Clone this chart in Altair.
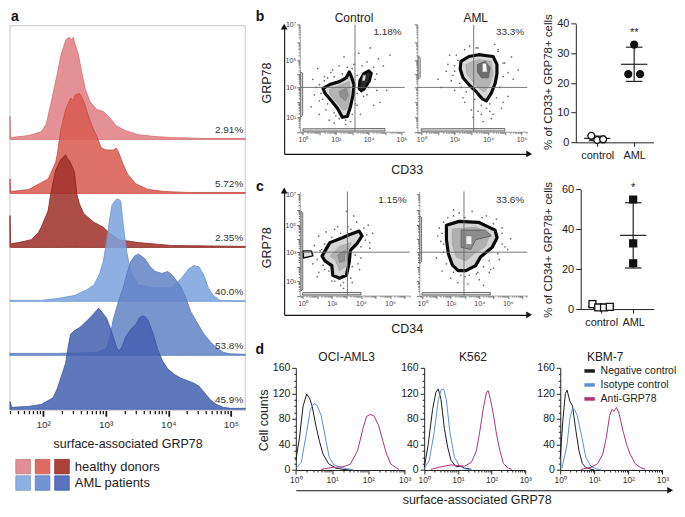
import altair as alt
import numpy as np
import pandas as pd

FONT = "Liberation Sans"
W, H = 669, 501
KX, KY = 667 / 685.0, 499 / 517.0


def px(v):
    return round(v * KX, 2)


def py(v):
    return round(v * KY, 2)


SUP = {0: "\u2070", 1: "\u00b9", 2: "\u00b2", 3: "\u00b3", 4: "\u2074",
       5: "\u2075", 6: "\u2076", 7: "\u2077"}
INT_TEST = "abs(datum.value - round(datum.value)) < 0.001"


def pow_expr(allowed):
    s = "''"
    for n in sorted(allowed, reverse=True):
        s = f"(abs(datum.value - {n}) < 0.001 ? '10{SUP[n]}' : {s})"
    return s


def log_ticks(lo, hi):
    vals = []
    for d in range(int(np.floor(lo)) - 1, int(np.ceil(hi)) + 1):
        for k in range(1, 10):
            v = d + np.log10(k)
            if lo - 1e-9 <= v <= hi + 1e-9:
                vals.append(round(float(v), 4))
    return vals


def cond(test, a, b):
    return {"condition": {"test": test, "value": a}, "value": b}


ONE = pd.DataFrame({"k": [0]})
UNITS = []

# ---------------------------------------------------------------- data: panel a
row1_x = [1.47, 1.48, 1.77, 1.97, 2.05, 2.12, 2.23, 2.28, 2.34, 2.37, 2.42, 2.45, 2.48, 2.51,
          2.56, 2.62, 2.67, 2.75, 2.86, 2.96, 3.06, 3.17, 3.32, 3.52, 3.79, 4.05, 4.6, 5.23]
row1_h = [24, 2, 4, 8, 16, 36, 69, 86, 99, 104, 106, 103, 106, 99,
          89, 69, 53, 39, 31, 29, 23, 14, 9, 5, 3, 2, 1, 1]
row2_x = [1.47, 1.48, 1.77, 2.08, 2.20, 2.23, 2.28, 2.36, 2.44, 2.48, 2.51, 2.58, 2.62, 2.67,
          2.70, 2.78, 2.86, 2.93, 3.01, 3.12, 3.17, 3.21, 3.28, 3.35, 3.48, 3.68, 3.94, 4.30, 5.23]
row2_h = [15, 2, 4, 15, 32, 42, 65, 87, 99, 96, 102, 104, 100, 92,
          85, 70, 59, 47, 45, 45, 47, 42, 30, 20, 10, 4, 2, 1, 1]
row3_x = [1.47, 1.48, 1.50, 1.61, 1.81, 1.92, 1.97, 2.08, 2.12, 2.20, 2.28, 2.31, 2.36, 2.39,
          2.42, 2.47, 2.50, 2.54, 2.58, 2.65, 2.81, 2.96, 3.06, 3.21, 3.52, 4.05, 5.23]
row3_h = [33, 3, 4, 5, 8, 15, 21, 38, 55, 80, 91, 93, 96, 92,
          90, 83, 78, 55, 45, 35, 26, 21, 15, 8, 5, 2, 1]
row4_x = [1.47, 1.97, 2.23, 2.50, 2.70, 2.81, 2.90, 2.96, 3.01, 3.06, 3.10, 3.17, 3.21, 3.24,
          3.29, 3.34, 3.40, 3.52, 3.79, 4.05, 4.21, 4.33, 4.41, 4.49, 4.57, 4.64, 4.72, 4.83, 5.23]
row4_h = [1, 1, 3, 6, 12, 17, 28, 41, 60, 84, 100, 106, 106, 104,
          74, 50, 31, 17, 14, 14, 24, 34, 37, 36, 27, 14, 6, 1, 0.5]
row5_x = [1.47, 2.23, 2.86, 3.01, 3.07, 3.12, 3.20, 3.28, 3.34, 3.40, 3.46, 3.52, 3.57, 3.63,
          3.71, 3.79, 3.90, 3.99, 4.05, 4.10, 4.21, 4.29, 4.36, 4.46, 4.57, 4.67, 4.77, 4.88,
          4.99, 5.23]
row5_h = [2, 2, 3, 7, 20, 37, 55, 70, 85, 97, 103, 105, 103, 100,
          92, 87, 85, 87, 84, 80, 70, 58, 45, 34, 22, 14, 8, 3, 1.5, 1]
row6_x = [1.47, 1.50, 1.77, 1.97, 2.16, 2.23, 2.31, 2.36, 2.40, 2.44, 2.51, 2.59, 2.67, 2.75,
          2.82, 2.89, 2.95, 3.01, 3.07, 3.12, 3.17, 3.21, 3.26, 3.32, 3.40, 3.48, 3.54, 3.59,
          3.63, 3.68, 3.76, 3.83, 3.91, 3.99, 4.10, 4.21, 4.30, 4.41, 4.49, 4.57, 4.67, 4.77,
          4.88, 4.99, 5.23]
row6_h = [8, 2, 3, 5, 12, 22, 38, 48, 65, 78, 82, 85, 90, 95,
          100, 105, 100, 95, 85, 75, 65, 60, 65, 75, 83, 88, 95, 97,
          96, 92, 78, 62, 50, 42, 36, 32, 30, 27, 24, 18, 10, 5,
          2, 1, 1]
ridge_pct = ["2.91%", "5.72%", "2.35%", "40.0%", "53.8%", "45.9%"]
ridge_fill = ["#df7f84", "#d95b50", "#a0302a", "#7ba2dc", "#6383c6", "#4561b0"]
ridge_edge = ["#d66f75", "#c94a40", "#8a2420", "#6d95d3", "#5676bb", "#3a55a3"]
legend_groups = ["healthy donors", "AML patients"]
legend_fill = [["#e08e92", "#dd6d63", "#aa4038"], ["#8db0e3", "#7394d2", "#5773c0"]]
legend_edge = [["#c9777b", "#c4564d", "#8c2c25"], ["#7595cc", "#5a7bbd", "#4560a8"]]

# ---------------------------------------------------------------- data: panels b, c (flow)
bc_outer_x = [1.22, 1.63, 2.22, 2.64, 2.82, 2.93, 3.11, 3.05, 2.88, 2.70, 2.40, 2.11, 1.69, 1.34]
bc_outer_y = [2.94, 3.21, 3.43, 3.71, 4.14, 3.86, 3.21, 2.48, 1.65, 1.06, 1.00, 1.58, 2.16, 2.61]
bc_mid_x = [1.63, 2.52, 2.82, 2.88, 2.70, 2.46, 2.05, 1.63]
bc_mid_y = [2.87, 3.29, 3.43, 2.48, 1.58, 1.45, 2.03, 2.55]
bc_core_x = [2.22, 2.64, 2.76, 2.58, 2.28]
bc_core_y = [2.74, 2.94, 2.48, 2.10, 2.35]
bc_pop2_x = [3.41, 3.45, 3.70, 4.00, 4.18, 4.05, 3.75, 3.55]
bc_pop2_y = [2.90, 3.50, 4.05, 4.25, 4.05, 3.45, 2.90, 2.75]
bc_hole_x = [3.60, 3.68, 3.82, 3.76]
bc_hole_y = [3.50, 3.90, 3.90, 3.50]
bc_dots_x = [0.9, 1.0, 1.4, 0.8, 1.6, 1.9, 2.5, 3.4, 4.1, 4.6, 4.9, 4.5, 3.7, 3.3, 3.5, 2.9,
             2.2, 1.8, 5.1, 4.7, 0.5, 0.6, 1.3, 3.9, 4.3, 3.1, 2.6, 5.3, 2.0, 4.0,
             1.0, 1.1, 1.3, 1.5, 1.9, 2.4, 3.0, 3.3, 3.3, 3.2, 3.0, 2.6, 2.2, 1.9, 1.5, 1.2,
             4.4, 4.5, 3.9, 4.3, 3.6, 2.7, 1.7, 0.7, 1.0]
bc_dots_y = [4.4, 2.1, 1.5, 3.0, 0.8, 0.6, 5.2, 5.4, 5.7, 5.1, 4.6, 4.0, 2.4, 1.8, 1.2, 0.7,
             4.6, 4.3, 2.8, 2.0, 1.7, 3.6, 3.8, 4.9, 1.8, 4.7, 0.5, 5.3, 1.1, 3.0,
             3.2, 2.6, 3.5, 3.7, 3.8, 4.0, 4.4, 3.9, 2.6, 1.9, 1.2, 0.8, 0.9, 1.3, 1.9, 2.2,
             3.6, 2.8, 2.5, 4.5, 4.6, 4.5, 4.1, 2.5, 1.2]

ba_outer_x = [2.38, 2.85, 3.43, 4.30, 4.53, 4.53, 4.42, 4.19, 3.90, 3.66, 3.31, 2.85, 2.50, 2.33]
ba_outer_y = [4.93, 5.22, 5.32, 5.22, 4.71, 4.00, 3.29, 2.61, 2.10, 2.23, 2.68, 3.21, 3.71, 4.36]
ba_mid_x = [2.67, 3.43, 4.19, 4.30, 4.07, 3.78, 3.26, 2.73]
ba_mid_y = [4.71, 5.05, 4.93, 4.00, 3.14, 2.68, 3.14, 4.00]
ba_ring_x = [3.37, 3.84, 4.13, 4.01, 3.60, 3.37]
ba_ring_y = [4.71, 4.93, 4.43, 3.71, 3.71, 4.14]
ba_core_x = [3.66, 3.90, 3.95, 3.66]
ba_core_y = [4.79, 4.79, 4.14, 4.14]
ba_dots_x = [1.5, 1.8, 2.0, 2.2, 1.7, 2.6, 3.0, 3.6, 4.2, 4.8, 5.2, 5.5, 5.0, 4.6, 4.4, 3.9,
             3.3, 2.9, 2.4, 1.2, 5.8, 4.9, 3.1, 2.0, 4.1, 5.4, 1.0, 3.7,
             2.0, 2.1, 2.6, 3.4, 4.6, 4.9, 4.9, 4.7, 4.5, 4.1, 3.6, 3.2, 2.7, 2.3, 1.9, 5.2,
             4.3, 3.4, 2.5, 1.6]
ba_dots_y = [4.2, 3.5, 2.8, 5.0, 5.3, 2.0, 1.5, 1.2, 0.9, 1.6, 2.4, 3.6, 4.8, 5.6, 5.9, 1.6,
             5.7, 5.8, 3.0, 3.0, 4.3, 2.0, 1.0, 4.6, 1.4, 5.2, 3.6, 0.7,
             4.2, 5.3, 5.6, 5.7, 5.5, 4.8, 3.8, 3.0, 2.3, 1.9, 1.8, 2.2, 2.7, 3.3, 3.9, 4.1,
             1.2, 1.4, 2.3, 4.7]

cc_outer_x = [1.33, 1.87, 2.73, 3.20, 3.87, 4.07, 3.73, 3.27, 3.20, 3.00, 2.53, 2.07, 2.00, 1.53]
cc_outer_y = [2.73, 3.71, 4.07, 4.29, 4.57, 4.21, 3.64, 3.14, 2.33, 1.40, 1.20, 1.40, 2.07, 2.40]
cc_mid_x = [1.87, 2.53, 3.33, 3.07, 2.93, 2.53, 2.27]
cc_mid_y = [2.73, 3.43, 3.71, 2.87, 2.00, 1.73, 2.40]
cc_core_x = [2.40, 2.93, 2.87, 2.53]
cc_core_y = [2.80, 3.14, 2.40, 2.27]
cc_loop_x = [0.05, 0.70, 0.60, 0.05]
cc_loop_y = [2.60, 2.75, 3.10, 3.10]
cc_dots_x = [0.8, 1.1, 1.5, 0.7, 2.0, 2.6, 3.4, 3.9, 4.3, 4.8, 4.5, 3.7, 3.1, 2.2, 1.6, 1.0,
             0.6, 4.0, 2.8, 3.5, 1.3, 2.4, 4.6, 3.0,
             1.0, 1.2, 1.5, 2.0, 2.6, 3.3, 4.2, 4.4, 4.0, 3.6, 3.4, 3.3, 2.8, 2.2, 1.8, 1.4,
             3.8, 4.6, 2.4, 1.1]
cc_dots_y = [3.5, 4.2, 1.8, 2.2, 1.0, 0.7, 0.9, 1.8, 3.9, 4.4, 5.0, 5.2, 4.9, 4.7, 4.5, 1.3,
             3.0, 2.6, 0.5, 5.6, 3.2, 1.2, 3.3, 5.9,
             2.5, 3.1, 3.6, 4.1, 4.4, 4.7, 4.8, 4.3, 3.4, 2.8, 2.0, 1.2, 0.9, 1.0, 1.7, 2.1,
             2.2, 3.7, 4.9, 1.6]

ca_outer_x = [1.70, 2.59, 3.95, 5.11, 5.25, 4.91, 4.09, 3.75, 3.07, 2.52, 2.11, 1.84, 1.70]
ca_outer_y = [5.00, 5.25, 5.19, 4.64, 4.07, 3.36, 2.67, 2.07, 1.73, 1.73, 2.13, 2.87, 3.93]
ca_mid_x = [2.11, 3.75, 4.77, 4.43, 3.61, 3.07, 2.39, 2.11]
ca_mid_y = [4.71, 4.86, 4.36, 3.43, 2.87, 2.40, 2.67, 3.57]
ca_ring_x = [2.73, 4.43, 4.84, 3.75, 3.41, 2.73]
ca_ring_y = [4.64, 4.64, 4.21, 3.93, 3.21, 3.36]
ca_core_x = [3.07, 3.48, 3.48, 3.07]
ca_core_y = [4.21, 4.21, 3.57, 3.57]
ca_dots_x = [1.2, 1.5, 1.0, 1.4, 2.0, 2.5, 3.2, 4.0, 4.7, 5.4, 5.8, 5.6, 5.2, 4.5, 3.5, 2.6,
             1.8, 6.2, 3.0, 4.3, 2.2, 5.0, 1.1, 3.8,
             1.4, 1.5, 2.2, 3.0, 4.2, 5.0, 5.6, 5.6, 5.3, 4.7, 4.3, 3.9, 3.3, 2.7, 2.2, 1.7,
             1.5, 1.3, 6.0, 4.8]
ca_dots_y = [4.8, 3.6, 2.6, 1.7, 1.2, 0.9, 0.8, 1.1, 1.6, 2.5, 3.4, 4.8, 5.4, 5.6, 5.9, 5.8,
             5.5, 4.0, 1.3, 0.7, 6.0, 1.9, 4.2, 1.5,
             4.4, 5.2, 5.6, 5.5, 5.5, 5.1, 4.4, 3.6, 2.9, 2.4, 2.0, 1.6, 1.4, 1.4, 1.6, 2.2,
             3.0, 3.8, 3.2, 1.8]

# ---------------------------------------------------------------- data: scatter summaries
cd33_control = [2.2, 0.8, 1.0]
cd33_aml = [23, 33, 23]
cd34_control = [2.5, 0.8, 0.8, 1.1]
cd34_aml = [55, 33, 23]

# ---------------------------------------------------------------- data: panel d
SERIES = ["Negative control", "Isotype control", "Anti-GRP78"]
SERIES_COLORS = ["#1c1c1c", "#5b8fd9", "#b03278"]
oci_neg_e = [0.0, 0.1, 0.2, 0.3, 0.38, 0.45, 0.55, 0.65, 0.75, 0.9, 1.1, 1.3, 1.5]
oci_neg_c = [15, 50, 100, 119, 112, 100, 70, 45, 25, 10, 3, 1, 0]
oci_iso_e = [0.0, 0.15, 0.3, 0.4, 0.5, 0.58, 0.7, 0.8, 0.92, 1.05, 1.2, 1.4, 1.6]
oci_iso_c = [3, 12, 60, 95, 104, 102, 85, 55, 20, 8, 5, 2, 0]
oci_anti_e = [0.7, 1.0, 1.3, 1.5, 1.7, 1.85, 1.95, 2.05, 2.15, 2.28, 2.4, 2.5, 2.62, 2.75, 2.85]
oci_anti_c = [1, 4, 5, 9, 30, 65, 84, 87, 85, 70, 45, 25, 9, 4, 1]
k562_neg_e = [0.0, 0.12, 0.25, 0.35, 0.42, 0.5, 0.6, 0.7, 0.8, 0.95, 1.1, 1.2, 1.4]
k562_neg_c = [3, 40, 95, 122, 127, 110, 65, 35, 15, 5, 6, 3, 1]
k562_iso_e = [0.0, 0.15, 0.3, 0.42, 0.5, 0.58, 0.66, 0.76, 0.9, 1.05, 1.2, 1.4]
k562_iso_c = [2, 15, 60, 110, 125, 127, 110, 60, 20, 6, 2, 0]
k562_anti_e = [0.2, 0.5, 0.8, 1.0, 1.2, 1.4, 1.55, 1.65, 1.75, 1.85, 1.9, 1.97, 2.05, 2.15,
               2.25, 2.35, 2.5, 2.6]
k562_anti_c = [1, 5, 8, 7, 6, 12, 30, 60, 95, 122, 124, 110, 88, 55, 30, 10, 3, 1]
kbm_neg_e = [0.0, 0.08, 0.15, 0.2, 0.28, 0.36, 0.45, 0.55, 0.65, 0.75, 0.85, 1.0]
kbm_neg_c = [20, 80, 120, 125, 108, 100, 65, 30, 10, 4, 2, 0]
kbm_iso_e = [0.05, 0.2, 0.28, 0.36, 0.42, 0.5, 0.62, 0.75, 0.9, 1.05, 1.2]
kbm_iso_c = [3, 40, 80, 97, 95, 85, 55, 20, 6, 2, 0]
kbm_anti_e = [0.6, 0.9, 1.1, 1.25, 1.35, 1.45, 1.52, 1.58, 1.65, 1.72, 1.85, 1.95, 2.05, 2.2,
              2.35, 2.5]
kbm_anti_c = [1, 4, 10, 25, 50, 85, 95, 92, 98, 90, 60, 40, 25, 10, 4, 1]

# ================================================================ panel a
rx = alt.Scale(domain=[1.47, 5.23], range=[px(1), px(243)], nice=False, zero=False)
ry = alt.Scale(domain=[0, 400], range=[py(417), py(17)], nice=False, zero=False)


def ridge_off(k):
    return 281 - 56 * k


ridge_axis = alt.Axis(
    orient="bottom", offset=py(417) - H, values=log_ticks(1.47, 5.23),
    labelExpr=pow_expr([2, 3, 4, 5]), tickSize=cond(INT_TEST, 6, 3.5),
    tickWidth=cond(INT_TEST, 1.8, 1.3), tickColor="#1a1a1a", domain=False,
    labelFontSize=10, labelColor="#333", labelPadding=3, labelFlush=False,
    labelOverlap=False, title="surface-associated GRP78", titleFontSize=12.5,
    titleFontWeight="normal", titleColor="#222", titleY=py(452) - py(417),
    titleBaseline="middle")

UNITS.append(
    alt.Chart(ONE).mark_rect(fillOpacity=0, stroke="#c9c9c9", strokeWidth=1).encode(
        x=alt.XDatum(1.47, scale=rx, axis=None), x2=alt.X2Datum(5.23),
        y=alt.YDatum(399, scale=ry, axis=None), y2=alt.Y2Datum(0)))
rows = [(row1_x, row1_h), (row2_x, row2_h), (row3_x, row3_h),
        (row4_x, row4_h), (row5_x, row5_h), (row6_x, row6_h)]
for k, (xs, hs) in enumerate(rows):
    d = pd.DataFrame({"e": xs, "h": hs})
    d["top"] = ridge_off(k) + d["h"]
    d["base"] = ridge_off(k)
    UNITS.append(
        alt.Chart(d).mark_area(fill=ridge_fill[k], fillOpacity=0.86, stroke=ridge_edge[k],
                               strokeWidth=0.8).encode(
            x=alt.X("e:Q", scale=rx, axis=ridge_axis if k == 0 else None),
            y=alt.Y("top:Q", scale=ry, axis=None), y2="base:Q"))
pct_df = pd.DataFrame({"label": ridge_pct})
pct_df["ylab"] = [ridge_off(k) + 10 for k in range(6)]
UNITS.append(
    alt.Chart(pct_df).mark_text(align="right", baseline="middle", dx=-2, fontSize=10,
                                color="#333").encode(
        x=alt.XDatum(5.23, scale=rx, axis=None),
        y=alt.Y("ylab:Q", scale=ry, axis=None), text="label:N"))
UNITS.append(
    alt.Chart(ONE).mark_text(text="a", align="left", baseline="middle", dx=1, fontSize=14,
                             fontWeight="bold", color="#111").encode(
        x=alt.XDatum(1.47, scale=rx, axis=None), y=alt.YDatum(408, scale=ry, axis=None)))

leg_rows = []
for gi, g in enumerate(legend_groups):
    for s in range(3):
        leg_rows.append({"group": g, "shade": s, "fill": legend_fill[gi][s],
                         "edge": legend_edge[gi][s]})
leg_df = pd.DataFrame(leg_rows)
UNITS.append(alt.Chart(leg_df).mark_rect(strokeWidth=0.8).encode(
    x=alt.X("shade:O", scale=alt.Scale(range=[px(7), px(62)], paddingInner=0.25,
                                       paddingOuter=0), axis=None),
    y=alt.Y("group:N", sort=legend_groups,
            scale=alt.Scale(range=[py(468), py(500)], paddingInner=0.12, paddingOuter=0),
            axis=alt.Axis(orient="right", offset=px(63) - W, domain=False, ticks=False,
                          labelPadding=4, labelFontSize=13, labelColor="#222", title=None)),
    fill=alt.Fill("fill:N", scale=None), stroke=alt.Stroke("edge:N", scale=None)))


# ================================================================ flow plots
def flow_panel(xdom, xrng, ydom, yrng, polys, dots_x, dots_y, gate_x, gate_y,
               pct, pct_y, ylabels, title=None, title_x=None):
    sx_ = alt.Scale(domain=xdom, range=[px(v) for v in xrng], nice=False, zero=False)
    sy_ = alt.Scale(domain=ydom, range=[py(v) for v in yrng], nice=False, zero=False)
    xa = alt.Axis(orient="bottom", offset=py(yrng[0]) - H, values=log_ticks(xdom[0], xdom[1]),
                  labelExpr=pow_expr([0, 2, 4, 6]), tickSize=cond(INT_TEST, 3, 1.5),
                  tickColor="#555", tickWidth=0.8, domainColor="#888", domainWidth=0.8,
                  labelFontSize=7, labelColor="#444", labelPadding=1, labelFlush=False,
                  labelOverlap=False, title=None)
    ya = alt.Axis(orient="left", offset=-px(xrng[0]), values=log_ticks(ydom[0], ydom[-1]),
                  labelExpr=pow_expr([1, 3, 5, 7]) if ylabels else "''",
                  tickSize=cond(INT_TEST, 3, 1.5), tickColor="#555", tickWidth=0.8,
                  domainColor="#888", domainWidth=0.8, labelFontSize=7, labelColor="#444",
                  labelPadding=1, labelFlush=False, labelOverlap=False, title=None)
    dd = pd.DataFrame({"x": dots_x, "y": dots_y})
    UNITS.append(alt.Chart(dd).mark_circle(size=3, color="#6f6f6f", opacity=1).encode(
        x=alt.X("x:Q", scale=sx_, axis=xa), y=alt.Y("y:Q", scale=sy_, axis=ya)))
    for xs, ys, fill, stroke, sw in polys:
        pdf = pd.DataFrame({"x": xs, "y": ys, "i": list(range(len(xs)))})
        UNITS.append(alt.Chart(pdf).mark_line(interpolate="linear-closed", fill=fill,
                                              stroke=stroke, strokeWidth=sw,
                                              strokeJoin="round").encode(
            x=alt.X("x:Q", scale=sx_, axis=None), y=alt.Y("y:Q", scale=sy_, axis=None),
            order=alt.Order("i:Q")))
    UNITS.append(alt.Chart(ONE).mark_rule(color="#6a6a6a", strokeWidth=0.9).encode(
        x=alt.XDatum(gate_x, scale=sx_, axis=None),
        y=alt.YDatum(ydom[0], scale=sy_, axis=None), y2=alt.Y2Datum(ydom[-1])))
    UNITS.append(alt.Chart(ONE).mark_rule(color="#6a6a6a", strokeWidth=0.9).encode(
        x=alt.XDatum(xdom[0], scale=sx_, axis=None), x2=alt.X2Datum(xdom[1]),
        y=alt.YDatum(gate_y, scale=sy_, axis=None)))
    UNITS.append(alt.Chart(ONE).mark_text(text=pct, align="right", baseline="middle", dx=-3,
                                          dy=py(pct_y) - py(yrng[-1]), fontSize=10,
                                          color="#333").encode(
        x=alt.XDatum(xdom[1], scale=sx_, axis=None),
        y=alt.YDatum(ydom[-1], scale=sy_, axis=None)))
    if title:
        UNITS.append(alt.Chart(ONE).mark_text(text=title, align="center", baseline="middle",
                                              dy=py(10) - py(yrng[-1]), fontSize=12,
                                              color="#222").encode(
            x=alt.XDatum(title_x, scale=sx_, axis=None),
            y=alt.YDatum(ydom[-1], scale=sy_, axis=None)))


def edge_polys(y_lo, y_hi, x_hi, left_x):
    return [
        ([left_x - 0.06, left_x + 0.06, left_x + 0.06, left_x - 0.06],
         [y_lo, y_lo + 0.15, y_hi - 0.1, y_hi], "#dedede", "#555", 0.8),
        ([0.0, x_hi, x_hi, 0.0], [0.04, 0.05, 0.22, 0.2], "#e6e6e6", "#444", 0.8),
    ]


B_YDOM, B_YRNG = [0, 1, 3, 5, 7], [128, 113, 82, 54, 17]
C_YDOM, C_YRNG = [0, 1, 3, 5, 7.19], [298, 283, 253, 225, 190]

flow_panel(
    [-0.2, 6.2], [299, 407], B_YDOM, B_YRNG,
    edge_polys(1.0, 4.15, 5.0, -0.08) + [
        (bc_outer_x, bc_outer_y, "#d6d6d6", "#0a0a0a", 3.2),
        (bc_mid_x, bc_mid_y, "#b3b3b3", "#9a9a9a", 0.6),
        (bc_core_x, bc_core_y, "#8f8f8f", "#7a7a7a", 0.6),
        (bc_pop2_x, bc_pop2_y, "#2a2a2a", "#0a0a0a", 2.5),
        (bc_hole_x, bc_hole_y, "#f2f2f2", "#888", 0.6)],
    bc_dots_x, bc_dots_y, 3.17, 3.0, "1.18%", 25, True, "Control", 3.11)
flow_panel(
    [-0.23, 6.34], [420, 533], B_YDOM, B_YRNG,
    edge_polys(3.6, 5.25, 5.0, -0.12) + [
        (ba_outer_x, ba_outer_y, "#d9d9d9", "#0a0a0a", 3.2),
        (ba_mid_x, ba_mid_y, "#b5b5b5", "#9a9a9a", 0.6),
        (ba_ring_x, ba_ring_y, "#6e6e6e", "#555", 0.8),
        (ba_core_x, ba_core_y, "#f4f4f4", "#777", 0.6)],
    ba_dots_x, ba_dots_y, 3.14, 3.0, "33.3%", 25, False, "AML", 3.26)
flow_panel(
    [-0.2, 7.33], [299, 412], C_YDOM, C_YRNG,
    edge_polys(0.3, 5.9, 4.0, -0.05) + [
        (cc_loop_x, cc_loop_y, "#dddddd", "#111", 1.4),
        (cc_outer_x, cc_outer_y, "#d6d6d6", "#0a0a0a", 3.2),
        (cc_mid_x, cc_mid_y, "#b3b3b3", "#9a9a9a", 0.6),
        (cc_core_x, cc_core_y, "#8f8f8f", "#7a7a7a", 0.6)],
    cc_dots_x, cc_dots_y, 3.07, 3.0, "1.15%", 199, True)
flow_panel(
    [-0.2, 7.36], [422, 533], C_YDOM, C_YRNG,
    edge_polys(2.2, 5.6, 4.77, -0.1) + [
        (ca_outer_x, ca_outer_y, "#d4d4d4", "#0a0a0a", 3.2),
        (ca_mid_x, ca_mid_y, "#b0b0b0", "#999", 0.6),
        (ca_ring_x, ca_ring_y, "#8c8c8c", "#555", 0.8),
        (ca_core_x, ca_core_y, "#f0f0f0", "#777", 0.6)],
    ca_dots_x, ca_dots_y, 2.93, 3.0, "33.6%", 199, False)


# ================================================================ arrows (axis frames)
def arrow_panel(x0, x1, y0, y1, xtitle, xtitle_y, xtitle_x=None, ytitle=None,
                ytitle_x=None, ytitle_y=None, letter=None, letter_xy=None):
    sxa = alt.Scale(domain=[0, 1], range=[px(x0), px(x1)], nice=False, zero=False)
    sya = alt.Scale(domain=[0, 1], range=[py(y0), py(y1)], nice=False, zero=False)
    xargs = dict(orient="bottom", offset=py(y0) - H, ticks=False, labels=False,
                 domainColor="#111", domainWidth=1.1, title=xtitle, titleFontSize=12.5,
                 titleFontWeight="normal", titleColor="#222",
                 titleY=py(xtitle_y) - py(y0), titleBaseline="middle")
    if xtitle_x is not None:
        xargs["titleX"] = px(xtitle_x)
    xa = alt.Axis(**xargs)
    ya = None
    if ytitle:
        ya = alt.Axis(orient="left", offset=-px(x0), ticks=False, labels=False,
                      domainColor="#111", domainWidth=1.1, title=ytitle, titleFontSize=12.5,
                      titleFontWeight="normal", titleColor="#222",
                      titleX=px(ytitle_x) - px(x0), titleY=py(ytitle_y),
                      titleBaseline="middle")
    UNITS.append(alt.Chart(ONE).mark_point(shape="triangle-right", filled=True, size=45,
                                           color="#111", opacity=1).encode(
        x=alt.XDatum(1, scale=sxa, axis=xa), y=alt.YDatum(0, scale=sya, axis=ya)))
    if ytitle:
        UNITS.append(alt.Chart(ONE).mark_point(shape="triangle-up", filled=True, size=45,
                                               color="#111", opacity=1).encode(
            x=alt.XDatum(0, scale=sxa, axis=None), y=alt.YDatum(1, scale=sya, axis=None)))
    if letter:
        UNITS.append(alt.Chart(ONE).mark_text(text=letter, align="center", baseline="middle",
                                              fontSize=14, fontWeight="bold",
                                              color="#111").encode(
            x=alt.XDatum(letter_xy[0], scale=sxa, axis=None),
            y=alt.YDatum(letter_xy[1], scale=sya, axis=None)))


arrow_panel(283, 535, 151, 19, "CD33", 167, None, "GRP78", 265, 77, "b", (-0.099, 1.076))
arrow_panel(283, 535, 318, 189, "CD34", 332, None, "GRP78", 265, 248, "c", (-0.099, 1.031))
arrow_panel(295, 680, 500, 400, "surface-associated GRP78", 510, 481, None, None, None,
            "d", (-0.096, 1.45))


# ================================================================ scatter summaries
def scatter_panel(ctrl, aml, ymax, ystep, yrng, xrng, xdom, ytitle, ytitle_y, shape,
                  jit_ctrl, jit_aml, star, star_pad, ppu):
    sxs = alt.Scale(domain=xdom, range=[px(v) for v in xrng], nice=False, zero=False)
    sys_ = alt.Scale(domain=[0, ymax], range=[py(v) for v in yrng], nice=False, zero=False)
    xa = alt.Axis(orient="bottom", offset=py(yrng[0]) - H, values=[1, 2],
                  labelExpr="datum.value == 1 ? 'control' : 'AML'", tickSize=4,
                  tickColor="#222", domainColor="#222", labelFontSize=11, labelColor="#222",
                  labelPadding=3, labelFlush=False, title=None)
    ya = alt.Axis(orient="left", offset=-px(xrng[0]), values=list(range(0, ymax + 1, ystep)),
                  tickSize=5, tickColor="#222", domainColor="#222", labelFontSize=11,
                  labelColor="#222", labelPadding=2, title=ytitle, titleFontSize=11.5,
                  titleFontWeight="normal", titleColor="#222",
                  titleX=px(555) - px(xrng[0]), titleY=py(ytitle_y), titleBaseline="middle")
    recs = []
    for g, vals, fillc in [(1, ctrl, "white"), (2, aml, "#111")]:
        n = len(vals)
        for i, v in enumerate(vals):
            recs.append({"g": g, "v": v, "slot": i - (n - 1) / 2.0, "pf": fillc})
    d = pd.DataFrame(recs)
    hw, cw = 13.5 / ppu, 8.5 / ppu
    base = alt.Chart(d).transform_aggregate(
        m="mean(v)", s="stdev(v)", groupby=["g"]
    ).transform_calculate(
        lo="datum.m - datum.s", hi="datum.m + datum.s",
        ml=f"datum.g - {hw}", mr=f"datum.g + {hw}",
        cl=f"datum.g - {cw}", cr=f"datum.g + {cw}")
    rk = dict(color="#222", strokeWidth=1.2)
    UNITS.append(base.mark_rule(**rk).encode(
        x=alt.X("g:Q", scale=sxs, axis=None), y=alt.Y("lo:Q", scale=sys_, axis=None),
        y2="hi:Q"))
    for fld in ["hi", "lo"]:
        UNITS.append(base.mark_rule(**rk).encode(
            x=alt.X("cl:Q", scale=sxs, axis=None), x2="cr:Q",
            y=alt.Y(f"{fld}:Q", scale=sys_, axis=None)))
    UNITS.append(base.mark_rule(**rk).encode(
        x=alt.X("ml:Q", scale=sxs, axis=None), x2="mr:Q",
        y=alt.Y("m:Q", scale=sys_, axis=None)))
    UNITS.append(alt.Chart(d).transform_calculate(
        xj=f"datum.g + datum.slot * (datum.g == 1 ? {jit_ctrl} : {jit_aml})"
    ).mark_point(shape=shape, filled=True, size=48, stroke="#111", strokeWidth=1.3,
                 opacity=1).encode(
        x=alt.X("xj:Q", scale=sxs, axis=xa), y=alt.Y("v:Q", scale=sys_, axis=ya),
        fill=alt.Fill("pf:N", scale=None)))
    sdf = pd.DataFrame({"g": [2], "label": [star], "sy": [max(aml) + star_pad]})
    UNITS.append(alt.Chart(sdf).mark_text(baseline="middle", fontSize=11, color="#222").encode(
        x=alt.X("g:Q", scale=sxs, axis=None), y=alt.Y("sy:Q", scale=sys_, axis=None),
        text="label:N"))


scatter_panel(cd33_control, cd33_aml, 40, 10, [139, 16], [583, 663],
              [1 - 22 / 38.0, 2 + 20 / 38.0], "% of CD33+ GRP78+ cells", 76,
              "circle", 0.16, 0.16, "**", 4, 38.0)
scatter_panel(cd34_control, cd34_aml, 60, 20, [312, 188], [588, 663],
              [1 - 21 / 33.0, 2 + 21 / 33.0], "% of CD34+ GRP78+ cells", 250,
              "square", 0.18, 0.0, "*", 6, 33.0)


# ================================================================ panel d histograms
def hist_panel(xrng, curves, title, title_x, show_ytitle, with_legend):
    sxh = alt.Scale(domain=[0, 3], range=[px(v) for v in xrng], nice=False, zero=False)
    syh = alt.Scale(domain=[0, 160], range=[py(479), py(373)], nice=False, zero=False)
    xa = alt.Axis(orient="bottom", offset=py(479) - H, values=log_ticks(0, 3),
                  labelExpr=pow_expr([0, 1, 2, 3]), tickSize=cond(INT_TEST, 4, 2),
                  tickColor="#222", domainColor="#222", labelFontSize=8.5, labelColor="#333",
                  labelPadding=2, labelFlush=False, labelOverlap=False, title=None)
    yargs = dict(orient="left", offset=-px(xrng[0]), values=list(range(0, 161, 10)),
                 labelExpr="datum.value % 40 == 0 ? datum.label : ''",
                 tickSize=cond("datum.value % 40 == 0", 4, 2), tickColor="#222",
                 domainColor="#222", labelFontSize=10.5, labelColor="#222", labelPadding=2,
                 labelOverlap=False, title=None)
    if show_ytitle:
        yargs.update(title="Cell counts", titleFontSize=12.5, titleFontWeight="normal",
                     titleColor="#222", titleX=px(262) - px(xrng[0]), titleY=py(427),
                     titleBaseline="middle")
    ya = alt.Axis(**yargs)
    recs = []
    for name, (es, cs) in zip(SERIES, curves):
        for e, c in zip(es, cs):
            recs.append({"series": name, "e": e, "c": c})
    d = pd.DataFrame(recs)
    leg = None
    if with_legend:
        leg = alt.Legend(orient="none", legendX=px(590), legendY=py(369), title=None,
                         symbolType="stroke", symbolStrokeWidth=3.5, symbolSize=110,
                         labelFontSize=10.5, labelColor="#222", rowPadding=-5, labelOffset=4,
                         padding=0)
    UNITS.append(alt.Chart(d).mark_line(strokeWidth=1).encode(
        x=alt.X("e:Q", scale=sxh, axis=xa), y=alt.Y("c:Q", scale=syh, axis=ya),
        color=alt.Color("series:N", sort=SERIES,
                        scale=alt.Scale(domain=SERIES, range=SERIES_COLORS), legend=leg),
        detail="series:N"))
    UNITS.append(alt.Chart(ONE).mark_text(text=title, baseline="middle", fontSize=12,
                                          dy=py(362) - py(373), color="#222").encode(
        x=alt.XDatum(title_x, scale=sxh, axis=None), y=alt.YDatum(160, scale=syh, axis=None)))


hist_panel([295, 407], [(oci_neg_e, oci_neg_c), (oci_iso_e, oci_iso_c),
                        (oci_anti_e, oci_anti_c)], "OCI-AML3", 1.4, True, False)
hist_panel([427, 531], [(k562_neg_e, k562_neg_c), (k562_iso_e, k562_iso_c),
                        (k562_anti_e, k562_anti_c)], "K562", 1.45, False, False)
hist_panel([567, 672], [(kbm_neg_e, kbm_neg_c), (kbm_iso_e, kbm_iso_c),
                        (kbm_anti_e, kbm_anti_c)], "KBM-7", 1.32, False, True)

# ================================================================ assemble
chart = alt.layer(*UNITS).resolve_scale(
    x="independent", y="independent", color="independent"
).properties(
    width=W, height=H, padding=0
).configure_view(stroke=None).configure_axis(
    grid=False, labelFont=FONT, titleFont=FONT
).configure_text(font=FONT).configure_legend(labelFont=FONT)

chart.save("out.html", embed_options={"renderer": "svg", "actions": False})
